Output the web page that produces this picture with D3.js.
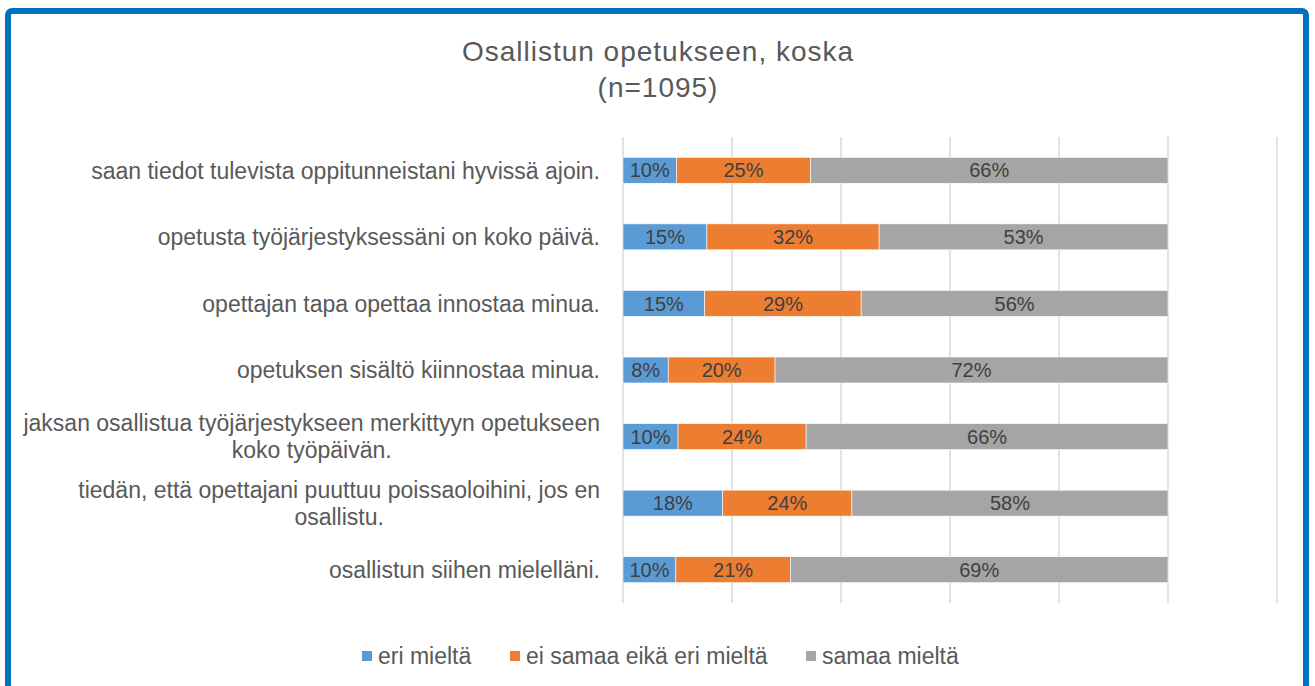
<!DOCTYPE html>
<html>
<head>
<meta charset="utf-8">
<script src="https://cdn.jsdelivr.net/npm/d3@7"></script>
<style>
  body { margin: 0; background: #fff; }
  text { font-family: "Liberation Sans", Arial, sans-serif; }
</style>
</head>
<body>
<div id="chart"></div>
<script>
// Survey statements, top to bottom.
const categories = [
    "saan tiedot tulevista oppitunneistani hyvissä ajoin.",
    "opetusta työjärjestyksessäni on koko päivä.",
    "opettajan tapa opettaa innostaa minua.",
    "opetuksen sisältö kiinnostaa minua.",
    "jaksan osallistua työjärjestykseen merkittyyn opetukseen koko työpäivän.",
    "tiedän, että opettajani puuttuu poissaoloihini, jos en osallistu.",
    "osallistun siihen mielelläni."
];

const seriesNames = ["eri mieltä", "ei samaa eikä eri mieltä", "samaa mieltä"];
const seriesColors = ["#5b9bd5", "#ed7d31", "#a5a5a5"];

// Shares in percent.
const eriMielta   = [9.8, 15.4, 15.0, 8.3, 10.1, 18.3, 9.7];
const eiSamaaEika = [24.6, 31.6, 28.7, 19.6, 23.5, 23.7, 21.0];
const samaaMielta = [65.6, 53.0, 56.3, 72.1, 66.4, 58.0, 69.3];

const xTicks = [0, 20, 40, 60, 80, 100, 120];

const width = 1315, height = 686;
const margin = {top: 137, left: 623, right: 1315 - 1277, bottom: 686 - 603};

const svg = d3.select("#chart").append("svg")
    .attr("width", width)
    .attr("height", height);

// Blue frame round the chart.
svg.append("rect")
    .attr("x", 8).attr("y", 11)
    .attr("width", 1298).attr("height", 720)
    .attr("rx", 4)
    .attr("fill", "none")
    .attr("stroke", "#0070c0")
    .attr("stroke-width", 6);

// Title.
const title = svg.append("text")
    .attr("text-anchor", "middle")
    .attr("fill", "#595959")
    .attr("font-size", 28)
    .attr("letter-spacing", 1);
title.append("tspan").attr("x", 658).attr("y", 61).text("Osallistun opetukseen, koska");
title.append("tspan").attr("x", 658).attr("y", 97).text("(n=1095)");

const x = d3.scaleLinear()
    .domain([0, 120])
    .range([margin.left, width - margin.right]);

const y = d3.scaleBand()
    .domain(categories)
    .range([margin.top, height - margin.bottom])
    .paddingInner(0.61)
    .paddingOuter(0.305);

// Vertical gridlines.
svg.append("g")
    .selectAll("line")
    .data(xTicks)
    .join("line")
    .attr("x1", d => x(d)).attr("x2", d => x(d))
    .attr("y1", margin.top).attr("y2", height - margin.bottom)
    .attr("stroke", "#d9d9d9")
    .attr("stroke-width", 1.5);

// Stack the series.
const rows = categories.map((c, i) => ({
    cat: c,
    "eri mieltä": eriMielta[i],
    "ei samaa eikä eri mieltä": eiSamaaEika[i],
    "samaa mieltä": samaaMielta[i]
}));
const stacked = d3.stack().keys(seriesNames)(rows);
const color = d3.scaleOrdinal(seriesNames, seriesColors);

const layer = svg.append("g")
    .selectAll("g")
    .data(stacked)
    .join("g")
    .attr("fill", d => color(d.key));

layer.selectAll("rect")
    .data(d => d)
    .join("rect")
    .attr("x", d => x(d[0]))
    .attr("y", d => y(d.data.cat))
    .attr("width", d => x(d[1]) - x(d[0]))
    .attr("height", y.bandwidth())
    .attr("stroke", "#fff")
    .attr("stroke-width", 0.6);

layer.selectAll("text")
    .data(d => d)
    .join("text")
    .attr("x", d => (x(d[0]) + x(d[1])) / 2)
    .attr("y", d => y(d.data.cat) + y.bandwidth() / 2)
    .attr("dy", "0.36em")
    .attr("text-anchor", "middle")
    .attr("fill", "#404040")
    .attr("font-size", 20)
    .text(d => Math.round(d[1] - d[0]) + "%");

// Category labels, wrapped to fit left of the plot.
// Wrapped lines are centred on each other, the block is right-aligned.
const labelRight = 600;
const labels = svg.append("g")
    .selectAll("text")
    .data(categories)
    .join("text")
    .attr("text-anchor", "middle")
    .attr("fill", "#595959")
    .attr("font-size", 23);

labels.each(function(d) {
    const t = d3.select(this);
    const words = d.split(" ");
    const lines = [];
    let line = [];
    const probe = t.append("tspan");
    const measure = s => { probe.text(s); return probe.node().getComputedTextLength(); };
    words.forEach(w => {
        if (measure(line.concat(w).join(" ")) > 585 && line.length) {
            lines.push(line.join(" "));
            line = [w];
        } else {
            line.push(w);
        }
    });
    lines.push(line.join(" "));
    const maxW = d3.max(lines, measure);
    probe.remove();
    const cx = labelRight - maxW / 2;
    const cy = y(d) + y.bandwidth() / 2;
    const lh = 27;
    lines.forEach((l, i) => {
        t.append("tspan")
            .attr("x", cx)
            .attr("y", cy + (i - (lines.length - 1) / 2) * lh)
            .attr("dy", "0.36em")
            .text(l);
    });
});

// Legend.
const legendX = [362, 510, 806];
const legend = svg.append("g")
    .selectAll("g")
    .data(seriesNames)
    .join("g")
    .attr("transform", (d, i) => `translate(${legendX[i]},656)`);

legend.append("rect")
    .attr("x", 0).attr("y", -5)
    .attr("width", 10).attr("height", 10)
    .attr("fill", d => color(d));

legend.append("text")
    .attr("x", 16)
    .attr("dy", "0.36em")
    .attr("fill", "#595959")
    .attr("font-size", 23)
    .text(d => d);
</script>
</body>
</html>
